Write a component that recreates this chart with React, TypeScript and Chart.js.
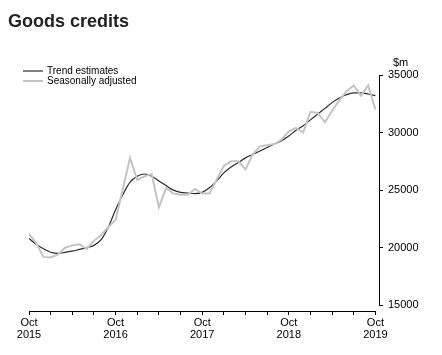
import React, { useEffect, useRef } from "react";
import { Chart, registerables } from "chart.js";

Chart.register(...registerables);

const months = [
  "Oct 2015", "Nov 2015", "Dec 2015", "Jan 2016", "Feb 2016", "Mar 2016", "Apr 2016", "May 2016", "Jun 2016", "Jul 2016", "Aug 2016", "Sep 2016",
  "Oct 2016", "Nov 2016", "Dec 2016", "Jan 2017", "Feb 2017", "Mar 2017", "Apr 2017", "May 2017", "Jun 2017", "Jul 2017", "Aug 2017", "Sep 2017",
  "Oct 2017", "Nov 2017", "Dec 2017", "Jan 2018", "Feb 2018", "Mar 2018", "Apr 2018", "May 2018", "Jun 2018", "Jul 2018", "Aug 2018", "Sep 2018",
  "Oct 2018", "Nov 2018", "Dec 2018", "Jan 2019", "Feb 2019", "Mar 2019", "Apr 2019", "May 2019", "Jun 2019", "Jul 2019", "Aug 2019", "Sep 2019",
  "Oct 2019",
];

const trendEstimates = [
  20800, 20300, 19900, 19600, 19500, 19600, 19700, 19850, 20000, 20200, 20700, 21800,
  23300, 24600, 25700, 26200, 26400, 26200, 25800, 25400, 25000, 24800, 24750, 24700,
  24800, 25200, 25800, 26500, 27000, 27400, 27800, 28100, 28400, 28700, 29000, 29300,
  29700, 30200, 30600, 31100, 31600, 32100, 32600, 33000, 33300, 33450, 33450, 33350,
  33200,
];

const seasonallyAdjusted = [
  21200, 20400, 19200, 19150, 19400, 20000, 20200, 20300, 19900, 20600, 21100, 21800,
  22400, 25100, 27800, 25900, 26200, 26400, 23500, 25200, 24700, 24600, 24600, 25100,
  24700, 24700, 25900, 27100, 27500, 27500, 26800, 28100, 28800, 28900, 29000, 29400,
  30100, 30400, 30000, 31800, 31700, 30900, 31900, 32800, 33600, 34100, 33200, 34100,
  32000,
];

const yTicks = [15000, 20000, 25000, 30000, 35000];
const title = "Goods credits";
const unitLabel = "$m";
const seriesNames = ["Trend estimates", "Seasonally adjusted"];
const seriesColors = ["#2b2b2b", "#c4c4c4"];

const FONT = "'Liberation Sans', Arial, sans-serif";

export default function App() {
  const ref = useRef<HTMLCanvasElement | null>(null);

  useEffect(() => {
    if (!ref.current) return;
    const toXY = (arr: number[]) => arr.map((v, i) => ({ x: i, y: v }));

    const decor = {
      id: "decor",
      afterDraw(chart: any) {
        const { ctx, chartArea, scales } = chart;
        const xs = scales.x;
        const ys = scales.y;
        ctx.save();
        // axis lines
        ctx.strokeStyle = "#000";
        ctx.lineWidth = 1;
        ctx.beginPath();
        const yb = Math.round(chartArea.bottom) + 0.5;
        ctx.moveTo(xs.getPixelForValue(0), yb);
        ctx.lineTo(xs.getPixelForValue(months.length - 1), yb);
        const xr = Math.round(chartArea.right) + 0.5;
        ctx.moveTo(xr, ys.getPixelForValue(yTicks[yTicks.length - 1]));
        ctx.lineTo(xr, ys.getPixelForValue(yTicks[0]));
        ctx.stroke();

        // title
        ctx.fillStyle = "#222";
        ctx.font = `bold 18px ${FONT}`;
        ctx.textBaseline = "alphabetic";
        ctx.textAlign = "left";
        ctx.fillText(title, 8, 27);

        // unit label
        ctx.fillStyle = "#000";
        ctx.font = `11px ${FONT}`;
        ctx.textAlign = "left";
        ctx.textBaseline = "middle";
        ctx.fillText(unitLabel, chartArea.right + 14, 63);

        // legend
        ctx.font = `10px ${FONT}`;
        const lx = 23;
        const ly = [71, 81];
        seriesNames.forEach((name, i) => {
          ctx.strokeStyle = seriesColors[i];
          ctx.lineWidth = i === 0 ? 1.2 : 2;
          ctx.beginPath();
          ctx.moveTo(lx, ly[i]);
          ctx.lineTo(lx + 20, ly[i]);
          ctx.stroke();
          ctx.fillStyle = "#000";
          ctx.fillText(name, lx + 24, ly[i]);
        });
        ctx.restore();
      },
    };

    const chart = new Chart(ref.current, {
      type: "line",
      data: {
        datasets: [
          {
            label: seriesNames[1],
            data: toXY(seasonallyAdjusted),
            borderColor: seriesColors[1],
            borderWidth: 2,
            pointRadius: 0,
            tension: 0,
          },
          {
            label: seriesNames[0],
            data: toXY(trendEstimates),
            borderColor: seriesColors[0],
            borderWidth: 1.2,
            pointRadius: 0,
            tension: 0.4,
            cubicInterpolationMode: "monotone",
          },
        ],
      },
      options: {
        animation: false,
        responsive: false,
        maintainAspectRatio: false,
        layout: { padding: { left: 29, right: 13, top: 75, bottom: 0 } },
        plugins: {
          legend: { display: false },
          tooltip: { enabled: false },
          title: { display: false },
        },
        scales: {
          x: {
            type: "linear",
            min: 0,
            max: months.length - 0.5,
            border: { display: false },
            grid: {
              drawOnChartArea: false,
              drawTicks: true,
              tickLength: 4,
              color: "#000",
            },
            afterBuildTicks: (scale: any) => {
              scale.ticks = scale.ticks.filter(
                (t: any) => Number.isInteger(t.value) && t.value % 3 === 0 && t.value <= months.length - 1
              );
            },
            afterFit: (scale: any) => {
              scale.height = 44;
            },
            ticks: {
              stepSize: 3,
              autoSkip: false,
              maxRotation: 0,
              includeBounds: false,
              padding: 2,
              color: "#000",
              font: { family: FONT, size: 11, lineHeight: 1.1 },
              callback: (v: any) => {
                const i = Number(v);
                if (i % 12 !== 0) return "";
                const parts = months[i].split(" ");
                return [parts[0], parts[1]];
              },
            },
          },
          y: {
            position: "right",
            min: 14500,
            max: 35000,
            border: { display: false },
            grid: {
              drawOnChartArea: false,
              drawTicks: true,
              tickLength: 4,
              color: "#000",
            },
            afterBuildTicks: (scale: any) => {
              scale.ticks = yTicks.map((v) => ({ value: v }));
            },
            afterFit: (scale: any) => {
              scale.width = 50;
            },
            ticks: {
              padding: 5,
              color: "#000",
              font: { family: FONT, size: 11 },
              callback: (v: any) => String(v),
            },
          },
        },
      },
      plugins: [decor],
    } as any);

    return () => chart.destroy();
  }, []);

  return (
    <div style={{ position: "absolute", left: 0, top: 0, width: 442, height: 355, background: "#fff" }}>
      <canvas ref={ref} width={442} height={355} style={{ width: 442, height: 355 }} />
    </div>
  );
}
